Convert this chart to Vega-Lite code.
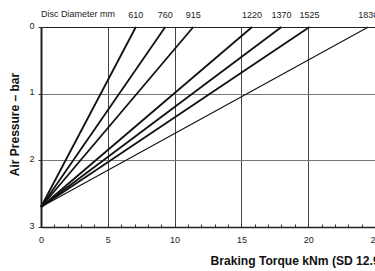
{
  "$schema": "https://vega.github.io/schema/vega-lite/v6.json",
  "width": 334,
  "height": 200,
  "autosize": "none",
  "padding": {"left": 41, "top": 27, "right": 0, "bottom": 44},
  "background": "white",
  "config": {
    "font": "Liberation Sans, Arial, sans-serif",
    "view": {"stroke": "#222", "strokeWidth": 1}
  },
  "title": {
    "text": "Disc Diameter mm",
    "orient": "top",
    "anchor": "start",
    "frame": "group",
    "offset": 0,
    "dy": 8,
    "fontSize": 9,
    "fontWeight": "normal",
    "color": "#222"
  },
  "data": {
    "values": [
      {"disc": 610, "torque": 0, "pressure": 2.7},
      {"disc": 610, "torque": 7.1, "pressure": 0},
      {"disc": 760, "torque": 0, "pressure": 2.7},
      {"disc": 760, "torque": 9.3, "pressure": 0},
      {"disc": 915, "torque": 0, "pressure": 2.7},
      {"disc": 915, "torque": 11.4, "pressure": 0},
      {"disc": 1220, "torque": 0, "pressure": 2.7},
      {"disc": 1220, "torque": 15.8, "pressure": 0},
      {"disc": 1370, "torque": 0, "pressure": 2.7},
      {"disc": 1370, "torque": 18.0, "pressure": 0},
      {"disc": 1525, "torque": 0, "pressure": 2.7},
      {"disc": 1525, "torque": 20.1, "pressure": 0},
      {"disc": 1830, "torque": 0, "pressure": 2.7},
      {"disc": 1830, "torque": 24.5, "pressure": 0}
    ]
  },
  "encoding": {
    "x": {
      "field": "torque",
      "type": "quantitative",
      "scale": {"domain": [0, 25], "nice": false, "zero": false},
      "axis": {
        "title": "Braking Torque kNm (SD 12.9)",
        "values": [0,1,2,3,4,5,6,7,8,9,10,11,12,13,14,15,16,17,18,19,20,21,22,23,24,25],
        "labelExpr": "datum.value % 5 === 0 ? datum.label : ''",
        "labelFlush": false,
        "labelFontSize": 9,
        "labelColor": "#222",
        "labelPadding": 11,
        "tickSize": -3,
        "tickColor": "#333",
        "domainColor": "#222",
        "domainWidth": 1.5,
        "grid": true,
        "gridColor": "#444",
        "gridOpacity": {"condition": {"test": "datum.value % 5 === 0 && datum.value > 0 && datum.value < 25", "value": 1}, "value": 0},
        "titleFontSize": 12.1,
        "titleFontWeight": "bold",
        "titleColor": "#111",
        "titleAlign": "left",
        "titleAnchor": "start",
        "titleX": 169,
        "titleY": 37,
        "titleBaseline": "alphabetic"
      }
    },
    "y": {
      "field": "pressure",
      "type": "quantitative",
      "scale": {"domain": [0, 3], "reverse": true, "nice": false},
      "axis": {
        "title": "Air Pressure – bar",
        "values": [0, 1, 2, 3],
        "labelFontSize": 9,
        "labelColor": "#222",
        "labelPadding": 4,
        "labelBaseline": "middle",
        "labelOffset": -2,
        "tickSize": 3,
        "tickColor": "#333",
        "domainColor": "#222",
        "domainWidth": 2,
        "grid": true,
        "gridColor": "#777",
        "gridOpacity": {"condition": {"test": "datum.value > 0 && datum.value < 3", "value": 1}, "value": 0},
        "titleFontSize": 12,
        "titleFontWeight": "bold",
        "titleColor": "#111",
        "titleX": -27,
        "titleY": 97,
        "titleAlign": "center",
        "titleBaseline": "middle"
      }
    }
  },
  "layer": [
    {
      "mark": {"type": "line", "color": "#111"},
      "encoding": {
        "detail": {"field": "disc", "type": "nominal"},
        "strokeWidth": {"condition": {"test": "datum.disc === 1830", "value": 1.1}, "value": 1.8}
      }
    },
    {
      "transform": [{"filter": "datum.pressure === 0"}],
      "mark": {"type": "text", "dy": -12, "fontSize": 9, "color": "#222", "baseline": "middle"},
      "encoding": {"text": {"field": "disc", "type": "nominal"}}
    }
  ]
}
